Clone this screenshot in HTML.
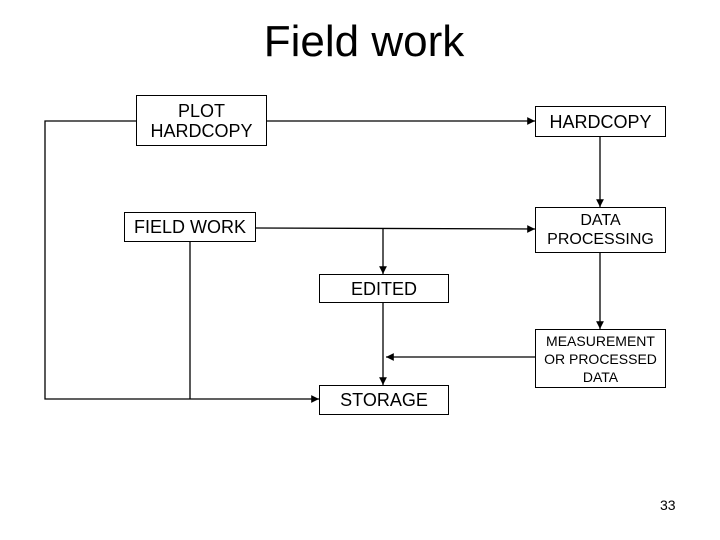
<!DOCTYPE html>
<html><head><style>
body{margin:0;width:720px;height:540px;background:#fff;position:relative;overflow:hidden;font-family:"Liberation Sans",sans-serif;}
.t{position:absolute;left:0;width:728px;top:17px;text-align:center;font-size:44px;}
.b{position:absolute;border:1.5px solid #000;box-sizing:border-box;background:#fff;display:flex;align-items:center;justify-content:center;text-align:center;font-size:18px;line-height:20px;}
</style></head><body>
<div class="t">Field work</div>
<svg width="720" height="540" style="position:absolute;left:0;top:0">
<defs><marker id="a" markerWidth="6" markerHeight="6" refX="6" refY="3" orient="auto"><path d="M0,0L6,3L0,6z"/></marker></defs>
<g stroke="#000" stroke-width="1.3" fill="none">
<polyline points="136,121 45,121 45,399 319,399" marker-end="url(#a)"/>
<line x1="267" y1="121" x2="535" y2="121" marker-end="url(#a)"/>
<line x1="600" y1="136" x2="600" y2="207" marker-end="url(#a)"/>
<line x1="256" y1="228" x2="535" y2="229" marker-end="url(#a)"/>
<line x1="383" y1="229" x2="383" y2="274" marker-end="url(#a)"/>
<line x1="190" y1="241" x2="190" y2="399"/>
<line x1="383" y1="302" x2="383" y2="385" marker-end="url(#a)"/>
<line x1="600" y1="252" x2="600" y2="329" marker-end="url(#a)"/>
<line x1="535" y1="357" x2="386" y2="357" marker-end="url(#a)"/>
</g></svg>
<div class="b" style="left:136px;top:95px;width:131px;height:51px">PLOT<br>HARDCOPY</div>
<div class="b" style="left:535px;top:106px;width:131px;height:31px">HARDCOPY</div>
<div class="b" style="left:124px;top:212px;width:132px;height:30px">FIELD WORK</div>
<div class="b" style="left:535px;top:207px;width:131px;height:46px;font-size:16px;line-height:19px">DATA<br>PROCESSING</div>
<div class="b" style="left:319px;top:274px;width:130px;height:29px">EDITED</div>
<div class="b" style="left:535px;top:329px;width:131px;height:59px;font-size:14px;line-height:18px">MEASUREMENT<br>OR PROCESSED<br>DATA</div>
<div class="b" style="left:319px;top:385px;width:130px;height:30px">STORAGE</div>
<div style="position:absolute;left:660px;top:497px;font-size:14px">33</div>
</body></html>
